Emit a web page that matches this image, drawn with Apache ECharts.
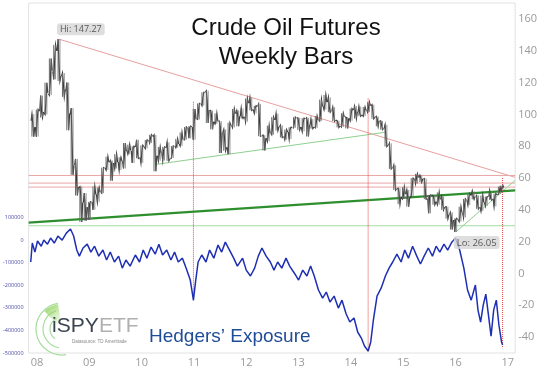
<!DOCTYPE html>
<html><head><meta charset="utf-8">
<script src="https://cdn.jsdelivr.net/npm/echarts@6/dist/echarts.min.js"></script>
<style>html,body{margin:0;padding:0;background:#fff}#c{width:540px;height:370px}</style>
</head><body><div id="c"></div>
<script>
// ---- tick labels ----
const xTickYears = [2008,2009,2010,2011,2012,2013,2014,2015,2016,2017];
const xTickLabels = ['08','09','10','11','12','13','14','15','16','17'];
const priceTicks = [-40,-20,0,20,40,60,80,100,120,140,160];
const hedgeTicks = [-500,-400,-300,-200,-100,0,100]; // thousands of contracts

// ---- crude oil monthly bars [open, close, low, high] ----
const oil2008 = [[96,92,86,100.1],[92,102,86,103],[102,101.6,98,111.8],[101,113.5,100,119.9],[113,127.4,112,135.1],[127,140,122,143.7],[140,124,121,147.27],[124,115.5,111,126],[115,100.6,90,120],[100,67.8,62,104],[68,54.4,49,72],[54,44.6,32.4,54.6]];
const oil2009 = [[44.6,41.7,33.2,50.5],[41.7,44.8,33.6,45],[44.8,49.7,40,54.7],[49.7,51.1,45,54],[51,66.3,50.5,66.5],[66.3,69.9,65,73.4],[69.9,69.5,58.3,71],[69.5,70,66,75],[70,70.6,65,73],[70.6,77,66,82],[77,77.3,75,81],[77,79.4,69.5,80]];
const oil2010 = [[79.4,72.9,72.4,84],[72.9,79.7,69.5,80.5],[79.7,83.8,78.5,83.9],[83.8,86.2,82,87.2],[86,74,64.2,87],[74,75.6,70.8,79.5],[75.6,79,71,79.5],[79,71.9,70.8,82.4],[72,80,72.6,80.1],[80,81.4,79,84.6],[81.4,84.1,80.1,88.6],[84,91.4,84,92]];
const oil2011 = [[91.4,92.2,85,92.6],[92,97,84.1,103.4],[97,106.7,96.8,106.9],[106.7,113.9,105.5,113.9],[113.9,102.7,94.6,114.8],[102.7,95.4,90.6,102.4],[95.4,95.7,94,100.6],[95.7,88.8,75.7,95.7],[88.8,79.2,77.1,90.5],[79.2,93.2,75,94.7],[93.2,100.4,91.8,103.4],[100.4,98.8,92.5,102.4]];
const oil2012 = [[98.8,98.5,97.4,103.7],[98.5,107.1,95.4,110],[107,103,102.5,110.5],[103,104.9,100.7,105.4],[104.9,86.5,86.3,106.4],[86.5,85,77.3,87],[85,88.1,83,92.9],[88.1,96.5,87.2,98.3],[96.5,92.2,89.8,100.4],[92,86.2,85.5,93.1],[86,88.9,84.1,90.4],[88.9,91.8,84.5,91.9]];
const oil2013 = [[91.8,97.5,91.5,98.2],[97.5,92,90.2,97.8],[92,97.2,89.3,97.6],[97.2,93.5,86.1,97.8],[93.5,92,91,97],[92,96.6,91.5,99],[96.6,105,95.9,109.3],[105,107.7,103,112.2],[107.7,102.3,101.4,110.7],[102.3,96.4,95.7,104.5],[96.4,92.7,91.8,96],[92.7,98.4,92.1,100.7]];
const oil2014 = [[98.4,97.5,91.2,98.2],[97.5,102.6,96,103.6],[102.6,101.6,97.4,105.2],[101.6,99.7,98.9,104.9],[99.7,102.7,98.8,104.6],[102.7,105.4,101.4,107.7],[105.4,98.2,97.2,106.1],[98.2,96,92.5,98.7],[96,91.2,90.4,95.9],[91.2,80.5,79.8,93.4],[80.5,66.2,65.7,81.8],[66.2,53.3,52.4,68]];
const oil2015 = [[53.3,48.2,43.6,53.6],[48.2,49.8,47,54.2],[49.8,47.6,42,52.5],[47.6,59.6,48.6,59.9],[59.6,60.3,56.5,62.6],[60.3,59.5,57.4,61.7],[59.5,47.1,46.7,59.7],[47.1,49.2,37.8,49.3],[49.2,45.1,43.2,49],[45.1,46.6,43.2,50.9],[46.6,41.7,39.9,48.4],[41.7,37,34.5,42]];
const oil2016 = [[37,33.6,27.6,38.4],[33.6,33.8,26.05,34.7],[33.8,38.3,32.6,41.9],[38.3,45.9,35.2,46.8],[45.9,49.1,43,50.2],[49.1,48.3,46.6,51.7],[48.3,41.6,40.6,49],[41.6,44.7,39.2,49],[44.7,48.2,42.5,48.3],[48.2,46.9,46.2,51.9],[46.9,49.4,42.2,50.2],[49.4,53.7,49.9,54.5]];
const oil2017 = [[53.7,54,52.1,55.2]];

// ---- hedgers' exposure (thousands), time in decimal years ----
const hedgeTime = [2008.00,2008.03,2008.08,2008.13,2008.2,2008.25,2008.32,2008.38,2008.45,2008.52,2008.6,2008.68,2008.76,2008.82,2008.88,2008.93,
2009.0,2009.08,2009.15,2009.22,2009.3,2009.38,2009.45,2009.52,2009.6,2009.68,2009.75,2009.82,2009.9,
2010.0,2010.08,2010.15,2010.22,2010.3,2010.38,2010.45,2010.52,2010.6,2010.68,2010.75,2010.82,2010.9,2010.97,
2011.05,2011.11,2011.15,2011.2,2011.27,2011.35,2011.42,2011.5,2011.58,2011.65,2011.72,2011.8,2011.88,2011.95,
2012.05,2012.12,2012.2,2012.28,2012.35,2012.42,2012.5,2012.58,2012.65,2012.72,2012.8,2012.88,2012.95,
2013.05,2013.12,2013.2,2013.28,2013.35,2013.42,2013.5,2013.58,2013.65,2013.72,2013.8,2013.88,2013.95,
2014.03,2014.1,2014.18,2014.25,2014.32,2014.38,2014.45,2014.5,2014.55,2014.62,2014.7,2014.78,2014.85,2014.92,
2015.0,2015.08,2015.15,2015.22,2015.3,2015.38,2015.45,2015.52,2015.6,2015.68,2015.75,2015.82,2015.9,2015.97,
2016.05,2016.12,2016.2,2016.28,2016.35,2016.42,2016.5,2016.55,2016.6,2016.65,2016.7,2016.75,2016.8,2016.85,2016.9,2016.95,2017.0,2017.02];
const hedgeValue = [-97,-13,-53,-4,-27,0,-18,9,-13,18,0,31,49,18,-44,-71,
-35,-18,-53,-27,-71,-44,-88,-53,-97,-71,-124,-88,-115,
-66,-97,-44,-80,-31,-62,-18,-66,-44,-88,-53,-97,-80,-124,
-177,-266,-186,-97,-66,-97,-44,-80,-22,-53,-9,-44,-80,-115,
-80,-133,-159,-124,-71,-35,-71,-97,-133,-97,-124,-80,-115,
-150,-177,-133,-159,-115,-159,-221,-257,-230,-274,-248,-301,-266,
-327,-363,-345,-407,-434,-469,-491,-451,-354,-248,-212,-159,-124,-97,
-62,-97,-44,-80,-27,-71,-106,-71,-35,-71,-27,-53,-18,
-44,-9,9,-44,-124,-221,-266,-199,-310,-363,-288,-239,-332,-425,-310,-266,-376,-451,-465];

// ---- annotation lines on price axis ----
const redTrend = [[2008.54,147.27],[2017.26,60.4]];
const redLevels = [61.6,56.8,54.3];
const greenTrend = [[2007.96,32],[2017.26,52.2]];
const greenLevel = 30;
const greenMid = [[2010.38,68.5],[2014.77,88.7]];
const greenLo = [[2016.125,26.05],[2017.26,58.5]];
const redVerticals = [[2011.11,108,-17],[2014.45,110,-49],[2017.02,60,-47]]; // [t, top, bottom]
const hiPoint = [2008.54,147.27];
const loPoint = [2016.125,26.05];

const X0 = 2007.96, X1 = 2017.26;

// build bar rows [t, o, c, l, h]
const years = {2008:oil2008,2009:oil2009,2010:oil2010,2011:oil2011,2012:oil2012,2013:oil2013,2014:oil2014,2015:oil2015,2016:oil2016};
const bars = [];
Object.keys(years).forEach(y => years[y].forEach((r,i) => bars.push([+y + (i+0.5)/12, r[0], r[1], r[2], r[3]])));
bars.push([2017.01].concat(oil2017[0]));

const lineSeries = (data, color, width, type) => ({
  type:'line', data, symbol:'none', silent:true, yAxisIndex:0, z:3,
  lineStyle:{color, width, type: type || 'solid'}, animation:false
});

const series = [];
series.push(lineSeries(redTrend,'#e8a0a0',1));
redLevels.forEach(v => series.push(lineSeries([[X0,v],[X1,v]],'#eaa6a6',1)));
series.push(lineSeries([[X0,greenLevel],[X1,greenLevel]],'#a6dca6',1));
series.push(lineSeries(greenMid,'#8fd08f',1));
series.push(lineSeries(greenLo,'#8fd08f',1));
series.push(lineSeries(greenTrend,'#2e8f2e',2.2));
redVerticals.forEach(r => series.push(lineSeries([[r[0],r[1]],[r[0],r[2]]],'#e84040',1,'dotted')));

const M = 1/12;
series.push({
  type:'custom', yAxisIndex:0, z:4, silent:true, animation:false,
  data: bars, encode:{x:0, y:[1,2,3,4]},
  renderItem(params, api){
    const t=api.value(0), o=api.value(1), c=api.value(2), l=api.value(3), h=api.value(4);
    const up = c >= o;
    const pts = [
      api.coord([t-0.42*M, o]),
      api.coord([t-0.22*M, up ? l : h]),
      api.coord([t-0.02*M, (o+c)/2]),
      api.coord([t+0.2*M, up ? h : l]),
      api.coord([t+0.42*M, c])
    ];
    const pl=api.coord([t-0.22*M,l]), ph=api.coord([t-0.22*M,h]);
    const pl2=api.coord([t+0.2*M,l]), ph2=api.coord([t+0.2*M,h]);
    return {type:'group', children:[
      {type:'polyline', shape:{points:pts}, style:{stroke:'#333', lineWidth:1.2, fill:null}},
      {type:'line', shape:{x1:pl[0],y1:pl[1],x2:ph[0],y2:ph[1]}, style:{stroke:'#666',lineWidth:1}},
      {type:'line', shape:{x1:pl2[0],y1:pl2[1],x2:ph2[0],y2:ph2[1]}, style:{stroke:'#777',lineWidth:0.8}}
    ]};
  }
});

series.push({
  type:'line', yAxisIndex:1, z:5, symbol:'none', silent:true, animation:false,
  data: hedgeTime.map((t,i)=>[t,hedgeValue[i]]),
  lineStyle:{color:'#1f2fb4', width:1.5}
});

const boxLabel = {
  show:true, color:'#333', fontSize:9, fontFamily:'Open Sans',
  backgroundColor:'#d6d6d6', borderRadius:3, padding:[2,3,1,3], align:'left'
};
series.push({
  type:'scatter', yAxisIndex:0, symbolSize:0, silent:true, z:6, animation:false,
  data:[
    {value:hiPoint, label:Object.assign({}, boxLabel, {position:'top', distance:4, offset:[-2,0], formatter:'Hi: 147.27'})},
    {value:loPoint, label:Object.assign({}, boxLabel, {position:'bottom', distance:4, offset:[-2,0], fontSize:9.5, formatter:'Lo: 26.05'})}
  ]
});

const chart = echarts.init(document.getElementById('c'), null, {renderer:'canvas'});
chart.setOption({
  backgroundColor:'#fff',
  animation:false,
  title:{
    text:'Crude Oil Futures\nWeekly Bars', left:281, top:9, textAlign:'center',
    textStyle:{fontFamily:'Liberation Sans', fontSize:24, fontWeight:'normal', color:'#111', lineHeight:29}
  },
  grid:{left:27, right:20, top:3, bottom:17, show:true, borderColor:'#e2e2e2', borderWidth:1, backgroundColor:'#fff'},
  xAxis:{
    type:'value', min:X0, max:X1,
    axisLine:{show:false}, axisTick:{show:false}, splitLine:{show:false},
    axisLabel:{customValues:xTickYears, formatter:v=>xTickLabels[xTickYears.indexOf(Math.round(v))]||'', color:'#9a9a9a', fontSize:11, fontFamily:'Open Sans', align:'left', margin:4}
  },
  yAxis:[
    {type:'value', position:'right', min:-50, max:170,
     axisLine:{show:false}, axisTick:{show:false}, splitLine:{show:false},
     axisLabel:{customValues:priceTicks, color:'#9a9a9a', fontSize:11, fontFamily:'Open Sans', margin:3}},
    {type:'value', position:'left', min:-500, max:1050,
     axisLine:{show:false}, axisTick:{show:false}, splitLine:{show:false},
     axisLabel:{customValues:hedgeTicks, formatter:v=>String(v*1000), color:'#4a4aa8', fontSize:5.5, fontFamily:'Open Sans', margin:5}}
  ],
  series,
  graphic:[
    {type:'text', x:149, y:327, z:10, style:{text:'Hedgers\u2019 Exposure', fill:'#1f4c97', font:'19px "Liberation Sans"'}},
    {type:'group', z:10, children:[
      {type:'arc', shape:{cx:62, cy:329, r:26, startAngle:Math.PI*0.45, endAngle:Math.PI*1.45}, style:{stroke:'#a8dca0', lineWidth:1.2, fill:null}},
      {type:'arc', shape:{cx:62, cy:329, r:19, startAngle:Math.PI*0.55, endAngle:Math.PI*1.4}, style:{stroke:'#a8dca0', lineWidth:1.2, fill:null}},
      {type:'arc', shape:{cx:62, cy:329, r:12, startAngle:Math.PI*0.7, endAngle:Math.PI*1.35}, style:{stroke:'#a8dca0', lineWidth:1.2, fill:null}},
      {type:'sector', shape:{cx:62, cy:329, r:25, r0:6, startAngle:Math.PI*1.25, endAngle:Math.PI*1.45},
        style:{fill:new echarts.graphic.LinearGradient(0,0,1,1,[{offset:0,color:'rgba(120,200,60,0.9)'},{offset:1,color:'rgba(200,235,170,0.2)'}])}},
      {type:'text', x:52, y:316, style:{text:'iSPY', fill:'#3a4450', font:'21px "Liberation Sans"'}},
      {type:'text', x:99, y:316, style:{text:'ETF', fill:'#b0b0b0', font:'21px "Liberation Sans"'}},
      {type:'text', x:72, y:339, style:{text:'Datasource: TD Ameritrade', fill:'#888', font:'4.5px "Liberation Sans"'}}
    ]}
  ]
});
</script></body></html>
